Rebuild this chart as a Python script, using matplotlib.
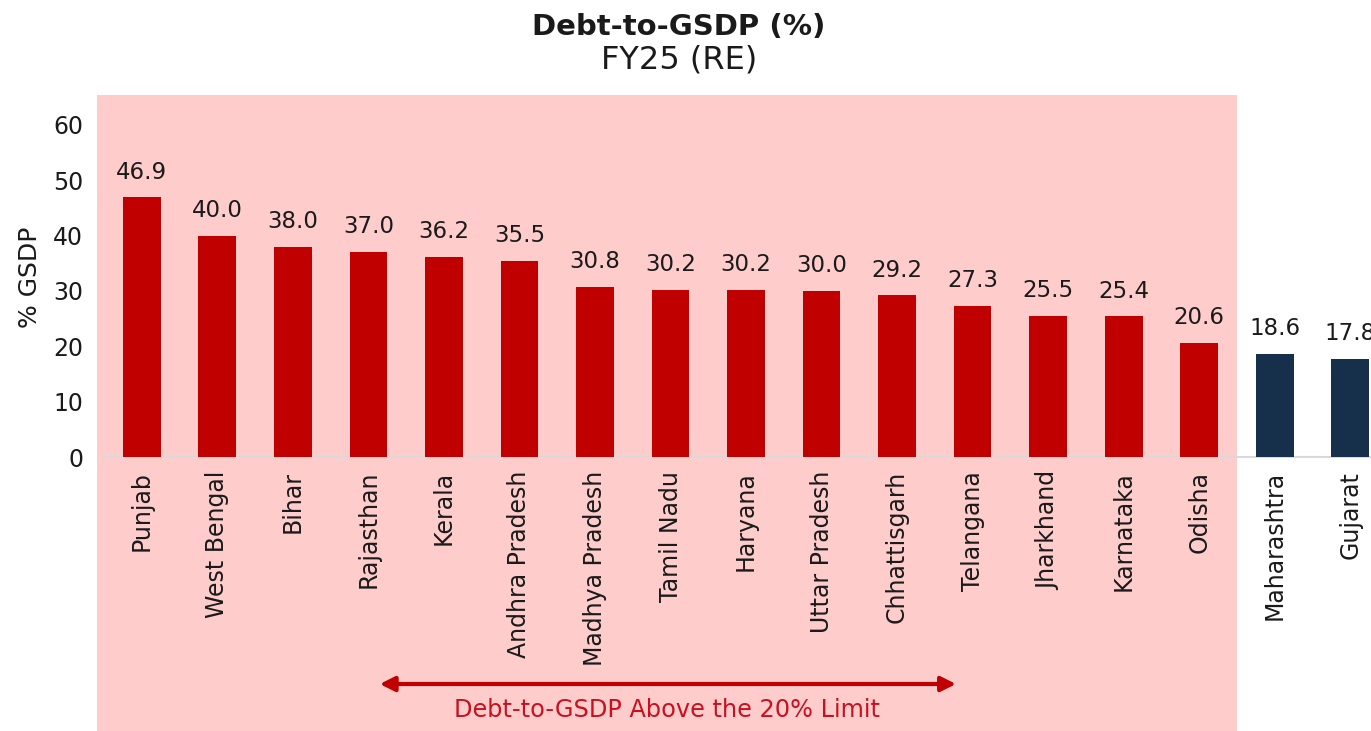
import numpy as np
import matplotlib.pyplot as plt
from matplotlib.transforms import blended_transform_factory

plt.rcParams['font.family'] = ['DejaVu Sans']

# Debt-to-GSDP by state, FY25 (RE)
states = ['Punjab', 'West Bengal', 'Bihar', 'Rajasthan', 'Kerala', 'Andhra Pradesh',
          'Madhya Pradesh', 'Tamil Nadu', 'Haryana', 'Uttar Pradesh', 'Chhattisgarh',
          'Telangana', 'Jharkhand', 'Karnataka', 'Odisha', 'Maharashtra', 'Gujarat']
debt_gsdp = [46.9, 40.0, 38.0, 37.0, 36.2, 35.5, 30.8, 30.2, 30.2, 30.0, 29.2,
             27.3, 25.5, 25.4, 20.6, 18.6, 17.8]
limit = 20.0
yticks = [0, 10, 20, 30, 40, 50, 60]

RED = '#C00000'
NAVY = '#16304C'
PINK = '#FFCCCC'
TXT = '#1A1A1A'

x = np.arange(len(states))
colors = [RED if v > limit else NAVY for v in debt_gsdp]
n_above = sum(v > limit for v in debt_gsdp)

fig = plt.figure(figsize=(13.71, 7.31), dpi=100)
ax = fig.add_axes([0.0759, 0.3748, 0.9365, 0.4921])
ax.set_xlim(-0.5, len(states) - 0.5)
ax.set_ylim(0, 65)

# shaded band behind the states above the limit
tr = blended_transform_factory(ax.transData, fig.transFigure)
band = plt.Rectangle((-0.59, 0.0), n_above - 0.5 + 0.59, 0.87, transform=tr,
                     facecolor=PINK, edgecolor='none', zorder=0, clip_on=False)
ax.add_patch(band)
ax.patch.set_visible(False)

bars = ax.bar(x, debt_gsdp, width=0.5, color=colors, zorder=3)
for b, v in zip(bars, debt_gsdp):
    ax.annotate(f'{v:.1f}', (b.get_x() + b.get_width() / 2, v), xytext=(0, 10),
                textcoords='offset points', ha='center', va='bottom',
                fontsize=16.5, color=TXT)

for sp in ['top', 'right', 'left']:
    ax.spines[sp].set_visible(False)
ax.spines['bottom'].set_color('#D9D9D9')
ax.spines['bottom'].set_linewidth(1.5)
ax.spines['bottom'].set_zorder(2)

ax.set_yticks(yticks)
ax.tick_params(axis='y', length=0, labelsize=17, labelcolor=TXT, pad=15)
ax.set_xticks(x)
ax.set_xticklabels(states, rotation=90, fontsize=17, color=TXT)
ax.tick_params(axis='x', length=0, pad=10)
ax.set_ylabel('% GSDP', fontsize=18, color=TXT, labelpad=8)

# arrow and caption under the labels
xa = blended_transform_factory(ax.transData, ax.transAxes)
ax.annotate('', xy=(3.15, -0.631), xytext=(10.78, -0.631),
            xycoords=xa, textcoords=xa,
            arrowprops=dict(arrowstyle='<|-|>', color=RED, lw=3,
                            mutation_scale=22, shrinkA=0, shrinkB=0))
ax.text(6.95, -0.703, 'Debt-to-GSDP Above the 20% Limit', transform=xa,
        ha='center', va='center', fontsize=17.3, color='#C8101E')

fig.text(0.495, 0.963, 'Debt-to-GSDP (%)', ha='center', va='center',
         fontsize=21, fontweight='bold', color=TXT)
fig.text(0.495, 0.918, 'FY25 (RE)', ha='center', va='center',
         fontsize=23, color=TXT)

fig.savefig('out.png', dpi=100)
